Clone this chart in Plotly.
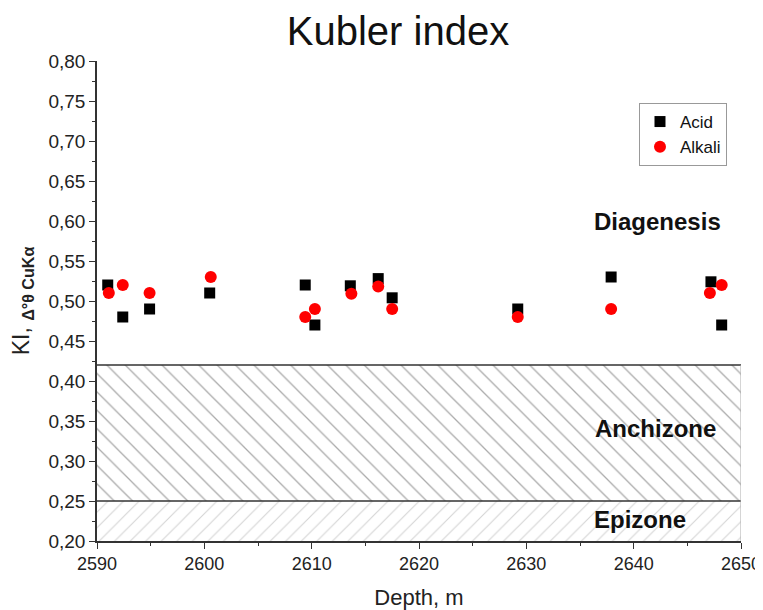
import plotly.graph_objects as go

# Data
acid_depth = [2591.0, 2592.4, 2594.9, 2600.5, 2609.4, 2610.3, 2613.6, 2616.2, 2617.5, 2629.2, 2637.9, 2647.2, 2648.2]
acid_ki = [0.520, 0.480, 0.490, 0.510, 0.520, 0.470, 0.519, 0.528, 0.504, 0.490, 0.530, 0.524, 0.470]
alkali_depth = [2591.1, 2592.4, 2594.9, 2600.6, 2609.4, 2610.3, 2613.7, 2616.2, 2617.5, 2629.2, 2637.9, 2647.1, 2648.2]
alkali_ki = [0.510, 0.520, 0.510, 0.530, 0.480, 0.490, 0.509, 0.518, 0.490, 0.480, 0.490, 0.510, 0.520]

# Zones
zone_names = ["Anchizone", "Epizone"]
zone_lower = [0.25, 0.20]
zone_upper = [0.42, 0.25]
zone_shape = ["\\", "/"]
zone_color = ["#555555", "#aaaaaa"]
zone_size = [13, 11]
x_range = [2590, 2650]
y_range = [0.20, 0.80]

label_names = ["Diagenesis", "Anchizone", "Epizone"]
label_x = [2642.2, 2642.0, 2640.6]
label_y = [0.599, 0.341, 0.2275]

FONT = "Liberation Sans"
W, H = 763, 610

fig = go.Figure()

for name, lo, hi, shp, col, sz in zip(zone_names, zone_lower, zone_upper, zone_shape, zone_color, zone_size):
    fig.add_trace(go.Scatter(
        x=[x_range[0], x_range[1], x_range[1], x_range[0], x_range[0]],
        y=[lo, lo, hi, hi, lo],
        mode="lines", fill="toself", line=dict(width=0),
        fillcolor="rgba(0,0,0,0)",
        fillpattern=dict(shape=shp, size=sz, solidity=0.1, fgcolor=col, bgcolor="white"),
        showlegend=False, hoverinfo="skip",
    ))

fig.add_trace(go.Scatter(
    x=acid_depth, y=acid_ki, mode="markers", name="Acid",
    marker=dict(symbol="square", size=11, color="black"),
))
fig.add_trace(go.Scatter(
    x=alkali_depth, y=alkali_ki, mode="markers", name="Alkali",
    marker=dict(symbol="circle", size=12, color="#ff0000"),
))

# zone boundary lines
for yb in [zone_upper[0], zone_upper[1]]:
    fig.add_shape(type="line", xref="x", yref="y", x0=x_range[0], x1=x_range[1], y0=yb, y1=yb,
                  line=dict(color="#333333", width=1.5))
fig.add_shape(type="line", xref="x", yref="y", x0=x_range[1], x1=x_range[1], y0=y_range[0], y1=zone_upper[0],
              line=dict(color="#aaaaaa", width=1))

for n, lx, ly in zip(label_names, label_x, label_y):
    fig.add_annotation(x=lx, y=ly, xref="x", yref="y", text="<b>" + n + "</b>", showarrow=False,
                       font=dict(size=24, color="#111111", family=FONT))

fig.update_layout(
    width=W, height=H,
    margin=dict(l=89, r=30, t=53, b=77),
    paper_bgcolor="white", plot_bgcolor="white",
    separators=",.",
    font=dict(family=FONT, size=18, color="#222222"),
    title=dict(text="Kubler index", x=(390 - 0) / W, xanchor="center", y=1 - 23 / H, yanchor="middle",
               yref="container", font=dict(size=40, color="#111111", family=FONT)),
    legend=dict(x=0.8416, y=0.9125, xanchor="left", yanchor="top",
                bordercolor="#999999", borderwidth=1, bgcolor="white",
                font=dict(size=17, color="#111111", family=FONT), itemwidth=30, tracegroupgap=0),
    showlegend=True,
)

fig.update_xaxes(
    range=x_range, dtick=10, tick0=2590, automargin=False,
    showgrid=False, zeroline=False,
    showline=True, linecolor="#333333", linewidth=1.5,
    ticks="outside", ticklen=6, tickwidth=1.2, tickcolor="#333333",
    tickfont=dict(size=18, family=FONT, color="#222222"),
    minor=dict(ticks="outside", dtick=5, ticklen=3, tickcolor="#333333", showgrid=False),
    title=dict(text="Depth, m", font=dict(size=22, color="#222222", family=FONT), standoff=16),
)
fig.update_yaxes(
    range=y_range, dtick=0.05, tick0=0.2, tickformat=".2f", automargin=False,
    showgrid=False, zeroline=False,
    showline=True, linecolor="#333333", linewidth=1.5,
    ticks="outside", ticklen=6, tickwidth=1.2, tickcolor="#333333",
    tickfont=dict(size=19, family=FONT, color="#222222"),
    minor=dict(ticks="outside", dtick=0.025, ticklen=3, tickcolor="#333333", showgrid=False),
    title=dict(text="KI, <sub><b>Δ°θ CuKα</b></sub>", font=dict(size=23, color="#222222", family=FONT), standoff=12),
)

fig.write_html("out.html")
